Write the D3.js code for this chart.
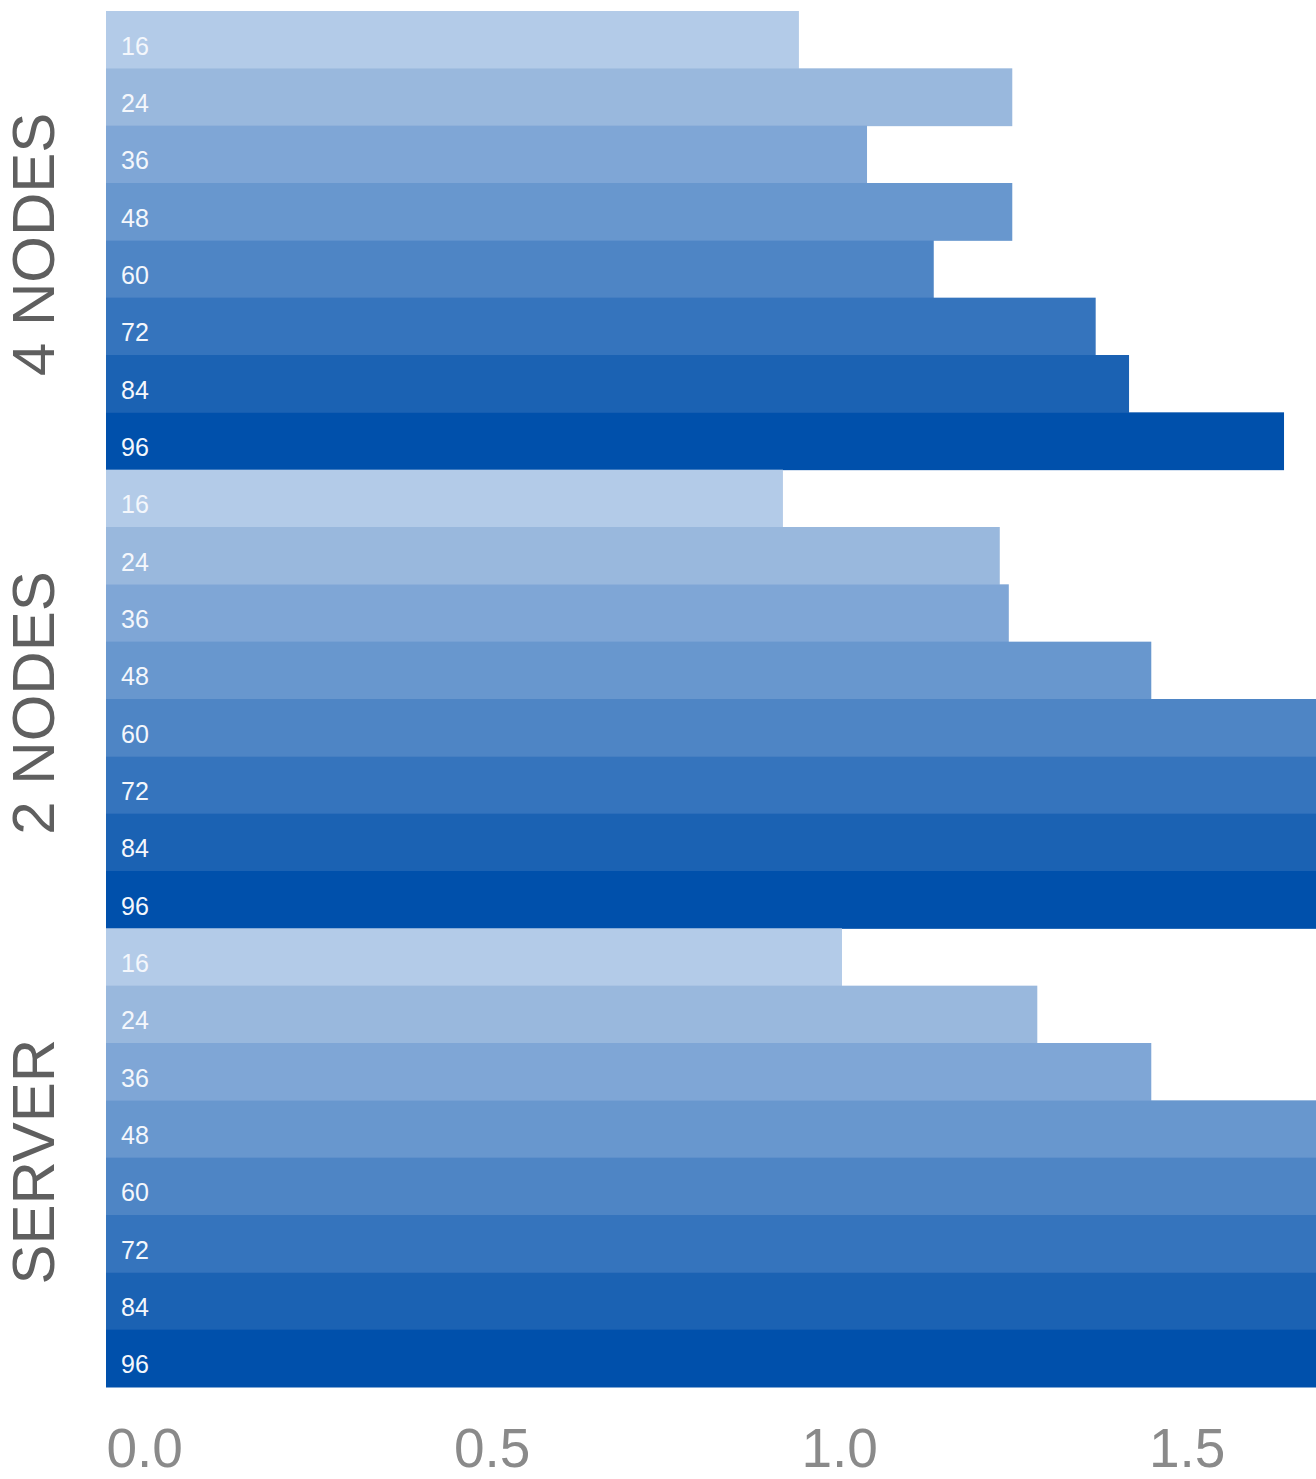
<!DOCTYPE html>
<html>
<head>
<meta charset="utf-8">
<script src="https://cdn.jsdelivr.net/npm/d3@7"></script>
<style>
  body { margin: 0; background: #fff; }
  #viz svg { display: block; overflow: hidden; }
</style>
</head>
<body>
<div id="viz"></div>
<script>
// groups, top to bottom
var groups = ["4 NODES", "2 NODES", "SERVER"];
// thread counts inside each group
var threads = ["16", "24", "36", "48", "60", "72", "84", "96"];
// values per group, same order as threads (some run off the right edge)
var nodes4 = [0.997, 1.304, 1.095, 1.304, 1.191, 1.424, 1.472, 1.695];
var nodes2 = [0.974, 1.286, 1.299, 1.504, 1.80, 1.85, 1.90, 1.95];
var server = [1.059, 1.340, 1.504, 1.80, 1.85, 1.90, 1.95, 2.00];
var xTicks = [0, 0.5, 1.0, 1.5];
var shades = ["#b3cbe8", "#99b8dd", "#7fa6d6", "#6897ce", "#4e85c5", "#3574bd", "#1b62b3", "#0050ab"];

var width = 1316, height = 1479;
var margin = {top: 11, left: 106, bottom: 92, right: 0};

var rows = [];
[nodes4, nodes2, server].forEach(function (vals, gi) {
  vals.forEach(function (v, i) {
    rows.push({group: groups[gi], thread: threads[i], value: v});
  });
});

var svg = d3.select("#viz").append("svg")
    .attr("width", width)
    .attr("height", height);

var x = d3.scaleLinear()
    .domain([0, 1])
    .range([margin.left, margin.left + 695]);

var yGroup = d3.scaleBand()
    .domain(groups)
    .range([margin.top, height - margin.bottom])
    .padding(0);

var yBar = d3.scaleBand()
    .domain(threads)
    .range([0, yGroup.bandwidth()])
    .padding(0);

var color = d3.scaleOrdinal().domain(threads).range(shades);

var bars = svg.append("g");

bars.selectAll("rect")
  .data(rows)
  .enter()
  .append("rect")
    .attr("x", x(0))
    .attr("y", function (d) { return yGroup(d.group) + yBar(d.thread); })
    .attr("width", function (d) { return x(d.value) - x(0); })
    .attr("height", yBar.bandwidth() + 0.5)
    .attr("fill", function (d) { return color(d.thread); });

// thread labels inside the bars
bars.selectAll("text")
  .data(rows)
  .enter()
  .append("text")
    .attr("x", x(0) + 15)
    .attr("y", function (d) { return yGroup(d.group) + yBar(d.thread) + yBar.bandwidth() / 2 + 15; })
    .attr("fill", "#f4f7fc")
    .style("font-family", "'Liberation Sans', Arial, sans-serif")
    .style("font-size", "25px")
    .text(function (d) { return d.thread; });

// group labels, rotated
svg.append("g").selectAll("text")
  .data(groups)
  .enter()
  .append("text")
    .attr("transform", function (d) { return "translate(54," + (yGroup(d) + yGroup.bandwidth() / 2 + 4) + ") rotate(-90)"; })
    .attr("text-anchor", "middle")
    .attr("fill", "#5f5f5f")
    .style("font-family", "'Liberation Sans', Arial, sans-serif")
    .style("font-size", "60px")
    .text(function (d) { return d; });

// x axis, labels only
var xAxis = svg.append("g")
    .attr("transform", "translate(0," + (height - margin.bottom) + ")")
    .call(d3.axisBottom(x).tickValues(xTicks).tickFormat(d3.format(".1f")).tickSize(0));

xAxis.select(".domain").remove();
xAxis.selectAll("text")
    .attr("y", 80)
    .attr("dy", 0)
    .attr("text-anchor", "start")
    .attr("fill", "#8a8a8a")
    .style("font-family", "'Liberation Sans', Arial, sans-serif")
    .style("font-size", "55px");
</script>
</body>
</html>
